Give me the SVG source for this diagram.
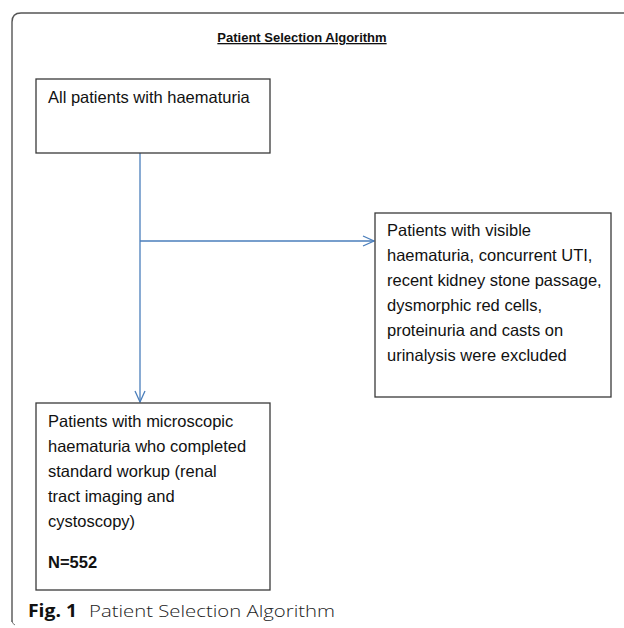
<svg xmlns="http://www.w3.org/2000/svg" width="624" height="628" viewBox="0 0 624 628">
<style>
.box{fill:#fff;stroke:#3a3a3a;stroke-width:1.3}
.t{font-family:"Liberation Sans",Arial,sans-serif;font-size:16.5px;fill:#111}
.conn{fill:none;stroke:#4a7ebb;stroke-width:1.3}
</style>
<rect width="624" height="628" fill="#fff"/>
<path d="M12 622 V22 Q12 13 21 13 H624" fill="none" stroke="#555" stroke-width="1.4"/>
<path d="M12 620 Q12 624 15 625" fill="none" stroke="#777" stroke-width="1"/>
<g id="title">
<text x="302" y="42" text-anchor="middle" font-family="Liberation Sans,Arial,sans-serif" font-size="13" font-weight="bold" fill="#111" text-decoration="underline">Patient Selection Algorithm</text>
</g>
<g id="connectors">
<path class="conn" d="M140 153 V402"/>
<path class="conn" d="M135 391 L140 402 L145 391"/>
<path class="conn" d="M140 241 H374"/>
<path class="conn" d="M363 236 L374 241 L363 246"/>
</g>
<g id="node-all">
<rect class="box" x="36" y="79" width="234" height="74"/>
<text class="t" x="48" y="103">All patients with haematuria</text>
</g>
<g id="node-excluded">
<rect class="box" x="375" y="213" width="236" height="184"/>
<text class="t" x="387" y="236">Patients with visible</text>
<text class="t" x="387" y="261">haematuria, concurrent UTI,</text>
<text class="t" x="387" y="286">recent kidney stone passage,</text>
<text class="t" x="387" y="311">dysmorphic red cells,</text>
<text class="t" x="387" y="336">proteinuria and casts on</text>
<text class="t" x="387" y="361">urinalysis were excluded</text>
</g>
<g id="node-microscopic">
<rect class="box" x="36" y="403" width="234" height="187"/>
<text class="t" x="48" y="427">Patients with microscopic</text>
<text class="t" x="48" y="452">haematuria who completed</text>
<text class="t" x="48" y="477">standard workup (renal</text>
<text class="t" x="48" y="502">tract imaging and</text>
<text class="t" x="48" y="527">cystoscopy)</text>
<text class="t" x="48" y="568" font-weight="bold">N=552</text>
</g>
<g id="caption">
<text x="28" y="617" font-family="Open Sans,Liberation Sans,sans-serif" font-size="17" font-weight="bold" fill="#111" textLength="49" lengthAdjust="spacingAndGlyphs">Fig. 1</text>
<text x="89" y="617" font-family="Open Sans,Liberation Sans,sans-serif" font-size="17" font-weight="300" fill="#222" textLength="246" lengthAdjust="spacingAndGlyphs">Patient Selection Algorithm</text>
</g>
</svg>
